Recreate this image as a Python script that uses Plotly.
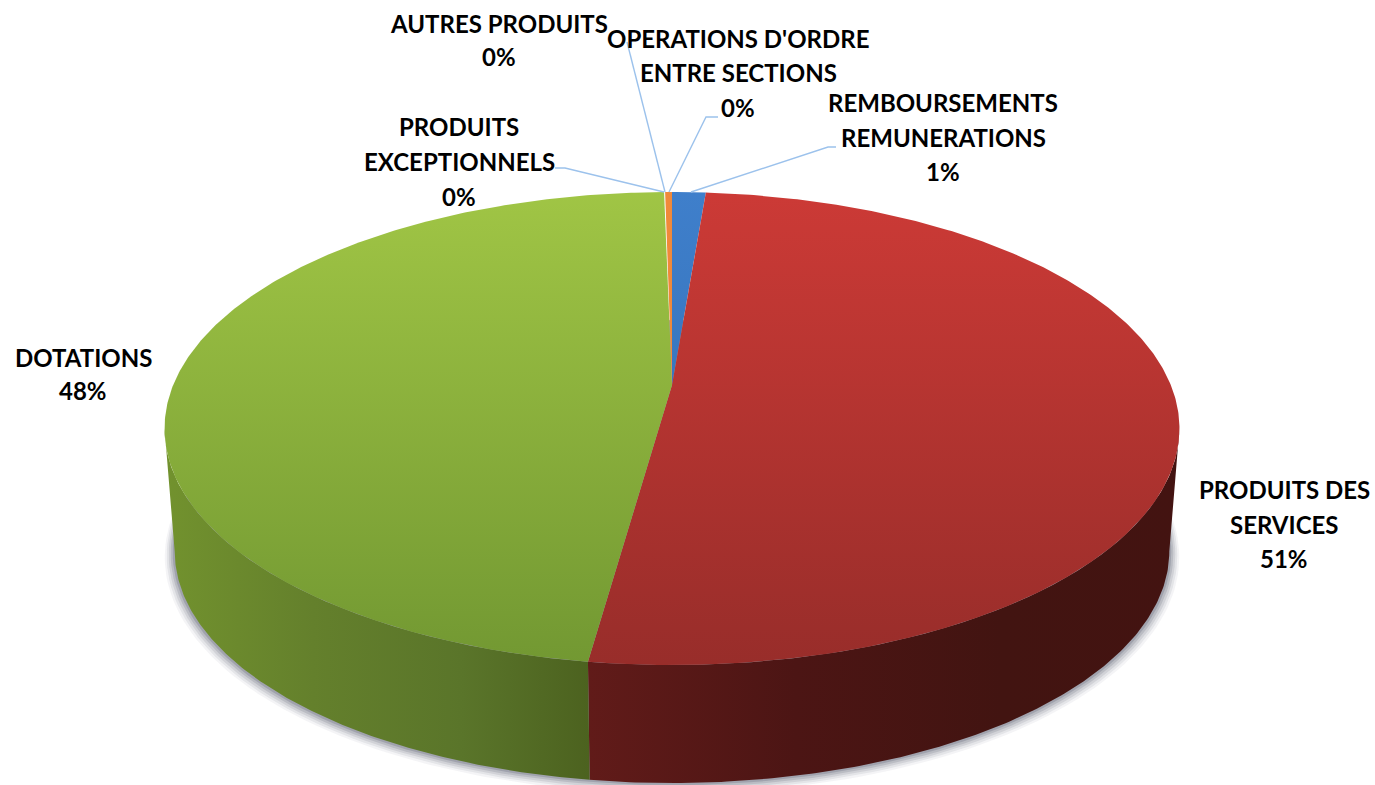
import numpy as np
import plotly.graph_objects as go

# --- data (clockwise from 12 o'clock) ---
categories = ["REMBOURSEMENTS REMUNERATIONS", "PRODUITS DES SERVICES", "DOTATIONS",
              "PRODUITS EXCEPTIONNELS", "AUTRES PRODUITS", "OPERATIONS D'ORDRE ENTRE SECTIONS"]
values = [1.28, 50.92, 47.5, 0.02, 0.02, 0.26]
label_lines = [["REMBOURSEMENTS", "REMUNERATIONS"], ["PRODUITS DES", "SERVICES"], ["DOTATIONS"],
               ["PRODUITS", "EXCEPTIONNELS"], ["AUTRES PRODUITS"], ["OPERATIONS D'ORDRE", "ENTRE SECTIONS"]]

# --- styles and layout constants ---
top_colors = [("#3F7FCB", "#2F6AAE"), ("#CC3A36", "#982D2A"), ("#A0C545", "#729832"),
              ("#7D5FA0", "#7D5FA0"), ("#46AAC5", "#46AAC5"), ("#F0893A", "#F0893A")]
wall_stops = {
    1: [[0, "#611B19"], [0.35, "#4C1514"], [0.7, "#421411"], [1, "#431311"]],
    2: [[0, "#72922E"], [0.35, "#64802C"], [0.7, "#5A752A"], [1, "#4C621F"]],
}
label_pos = [[(943, 102), (943, 137), (943, 171)], [(1284, 489), (1284, 524), (1284, 558)],
             [(83, 357), (83, 390)], [(459, 126), (459, 161), (459, 196)],
             [(499, 23), (499, 56)], [(738, 38), (738, 72), (738, 107)]]
leaders = [[(691, 192), (828, 147), (836, 147)], None, None,
           [(664, 192), (565, 168), (555, 168)], [(665, 192), (627, 42)],
           [(669, 192), (706, 117), (718, 117)]]
CX, APEX_Y, A, B, K = 672.0, 385.0, 498.8, 228.5, 0.184
WALL_SCALE, WALL_APEX_Y = 0.98, 508.6
VIS_START, VIS_END = 100.6, 259.4  # visible front wall range, degrees


def project(t_deg, scale=1.0, apex=APEX_Y):
    t = np.radians(t_deg)
    u, v = np.sin(t), -np.cos(t)
    d = 1 - K * v
    return CX + scale * A * u / d, apex + scale * B * v / d


fig = go.Figure()

# soft shadow below the pie base
ring = np.linspace(0, 360, 241)
for grow, dy, alpha in [(1.020, 5, 0.06), (1.016, 4, 0.09), (1.012, 3, 0.12), (1.008, 2, 0.16), (1.004, 1, 0.22)]:
    sx, sy = project(ring, WALL_SCALE * grow, WALL_APEX_Y + dy)
    fig.add_trace(go.Scatter(x=sx, y=sy, mode="lines", fill="toself", line=dict(width=0),
                             fillcolor=f"rgba(70,75,95,{alpha})", hoverinfo="skip", showlegend=False))

total = sum(values)
edges = np.concatenate([[0], np.cumsum(values)]) / total * 360

# walls
for i, name in enumerate(categories):
    lo, hi = max(edges[i], VIS_START), min(edges[i + 1], VIS_END)
    if hi <= lo or i not in wall_stops:
        continue
    ts = np.linspace(lo, hi, 160)
    x1, y1 = project(ts)
    x2, y2 = project(ts[::-1], WALL_SCALE, WALL_APEX_Y)
    fig.add_trace(go.Scatter(x=np.r_[x1, x2, x1[0]], y=np.r_[y1, y2, y1[0]], mode="lines", fill="toself",
                             line=dict(width=0), name=name + " (côté)", hoverinfo="skip", showlegend=False,
                             fillgradient=dict(type="horizontal", colorscale=wall_stops[i])))

# top surface
for i, name in enumerate(categories):
    ts = np.linspace(edges[i], edges[i + 1], max(3, int((edges[i + 1] - edges[i]) * 2)))
    x, y = project(ts)
    xs = np.r_[CX, x, CX]
    ys = np.r_[APEX_Y, y, APEX_Y]
    c0, c1 = top_colors[i]
    fig.add_trace(go.Scatter(x=xs, y=ys, mode="lines", fill="toself", line=dict(width=0), name=name,
                             fillgradient=dict(type="vertical", colorscale=[[0, c0], [1, c1]],
                                               start=192, stop=665),
                             showlegend=False, hovertemplate=f"{name}: {values[i]:.2f}%<extra></extra>"))

# leader lines
for pts in leaders:
    if pts:
        fig.add_trace(go.Scatter(x=[p[0] for p in pts], y=[p[1] for p in pts], mode="lines",
                                 line=dict(color="#9CC2EC", width=1.4), hoverinfo="skip", showlegend=False))

# labels
for i in range(len(categories)):
    texts = label_lines[i] + [f"{round(values[i] / total * 100)}%"]
    for txt, (lx, ly) in zip(texts, label_pos[i]):
        fig.add_annotation(x=lx, y=ly, text=f"<b>{txt}</b>", showarrow=False, xanchor="center", yanchor="middle",
                           font=dict(family="Lato", size=24, color="#000000"))

fig.update_layout(width=1375, height=785, margin=dict(l=0, r=0, t=0, b=0), paper_bgcolor="white",
                  plot_bgcolor="white", showlegend=False,
                  xaxis=dict(range=[0, 1375], visible=False, fixedrange=True),
                  yaxis=dict(range=[785, 0], visible=False, fixedrange=True))
fig.write_html("out.html", config={"displayModeBar": False},
               post_script="document.body.style.margin='0';document.body.style.overflow='hidden';")
